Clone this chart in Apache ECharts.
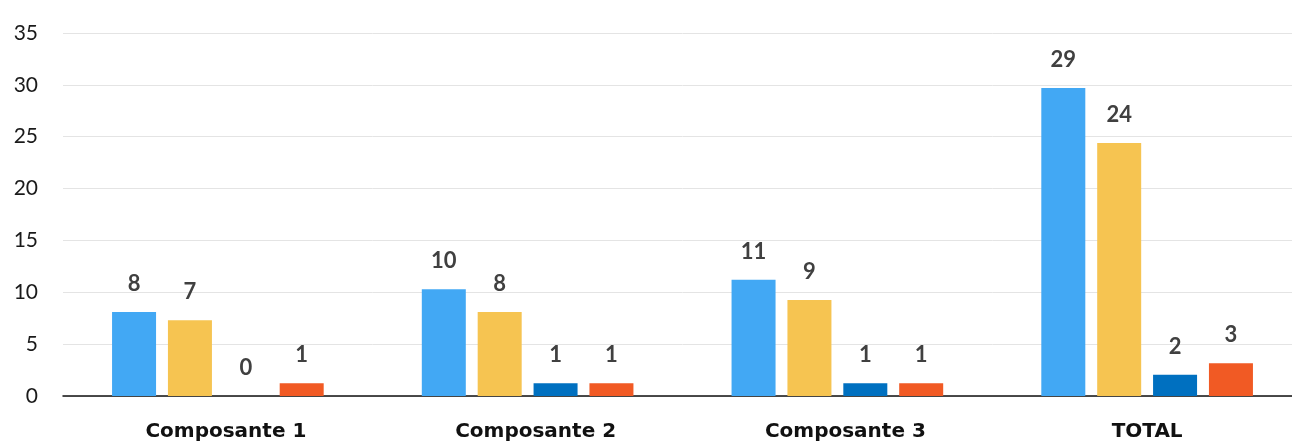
<!DOCTYPE html>
<html>
<head>
<meta charset="utf-8">
<script src="https://cdn.jsdelivr.net/npm/echarts@6/dist/echarts.min.js"></script>
<style>
html,body{margin:0;padding:0;background:#fff;overflow:hidden;}
#c{width:1302px;height:443px;}
</style>
</head>
<body>
<div id="c"></div>
<script>
var categories = ['Composante 1', 'Composante 2', 'Composante 3', 'TOTAL'];
var yTicks = [0, 5, 10, 15, 20, 25, 30, 35];
// bar heights
var serieA = [8.1, 10.3, 11.2, 29.7];
var serieB = [7.3, 8.1, 9.25, 24.4];
var serieC = [0, 1.22, 1.22, 2.05];
var serieD = [1.22, 1.22, 1.22, 3.15];
// numbers printed above the bars
var labelA = [8, 10, 11, 29];
var labelB = [7, 8, 9, 24];
var labelC = [0, 1, 1, 2];
var labelD = [1, 1, 1, 3];

var colors = ['#42A8F4', '#F6C451', '#0070C0', '#F15A24'];

function mk(name, data, labels, color) {
  return {
    name: name,
    type: 'bar',
    data: data,
    barWidth: 44,
    barGap: '27%',
    itemStyle: { color: color },
    label: {
      show: true,
      position: 'top',
      distance: 17,
      fontFamily: 'Lato',
      fontWeight: 'bold',
      fontSize: 22,
      color: '#404040',
      formatter: function (p) { return labels[p.dataIndex]; }
    }
  };
}

var chart = echarts.init(document.getElementById('c'));
chart.setOption({
  animation: false,
  grid: { left: 63, right: 0, top: 33, bottom: 47, containLabel: false },
  xAxis: {
    type: 'category',
    data: categories.map(function (c) {
      return c === 'TOTAL' ? c : { value: c, textStyle: { padding: [0, 0, 0, 16] } };
    }),
    axisLine: { lineStyle: { color: '#111', width: 1.5 } },
    axisTick: { show: false },
    axisLabel: {
      fontFamily: 'DejaVu Sans', fontWeight: 'bold', fontSize: 20, color: '#111', margin: 26
    }
  },
  yAxis: {
    type: 'value',
    min: yTicks[0],
    max: yTicks[yTicks.length - 1],
    interval: 5,
    axisLine: { show: false },
    axisTick: { show: false },
    splitLine: { lineStyle: { color: '#e4e4e4', width: 1 } },
    axisLabel: {
      fontFamily: 'Lato', fontSize: 21, color: '#1a1a1a', margin: 25,
      padding: [0, 0, 8, 0]
    }
  },
  series: [
    mk('A', serieA, labelA, colors[0]),
    mk('B', serieB, labelB, colors[1]),
    mk('C', serieC, labelC, colors[2]),
    mk('D', serieD, labelD, colors[3])
  ]
});
</script>
</body>
</html>
